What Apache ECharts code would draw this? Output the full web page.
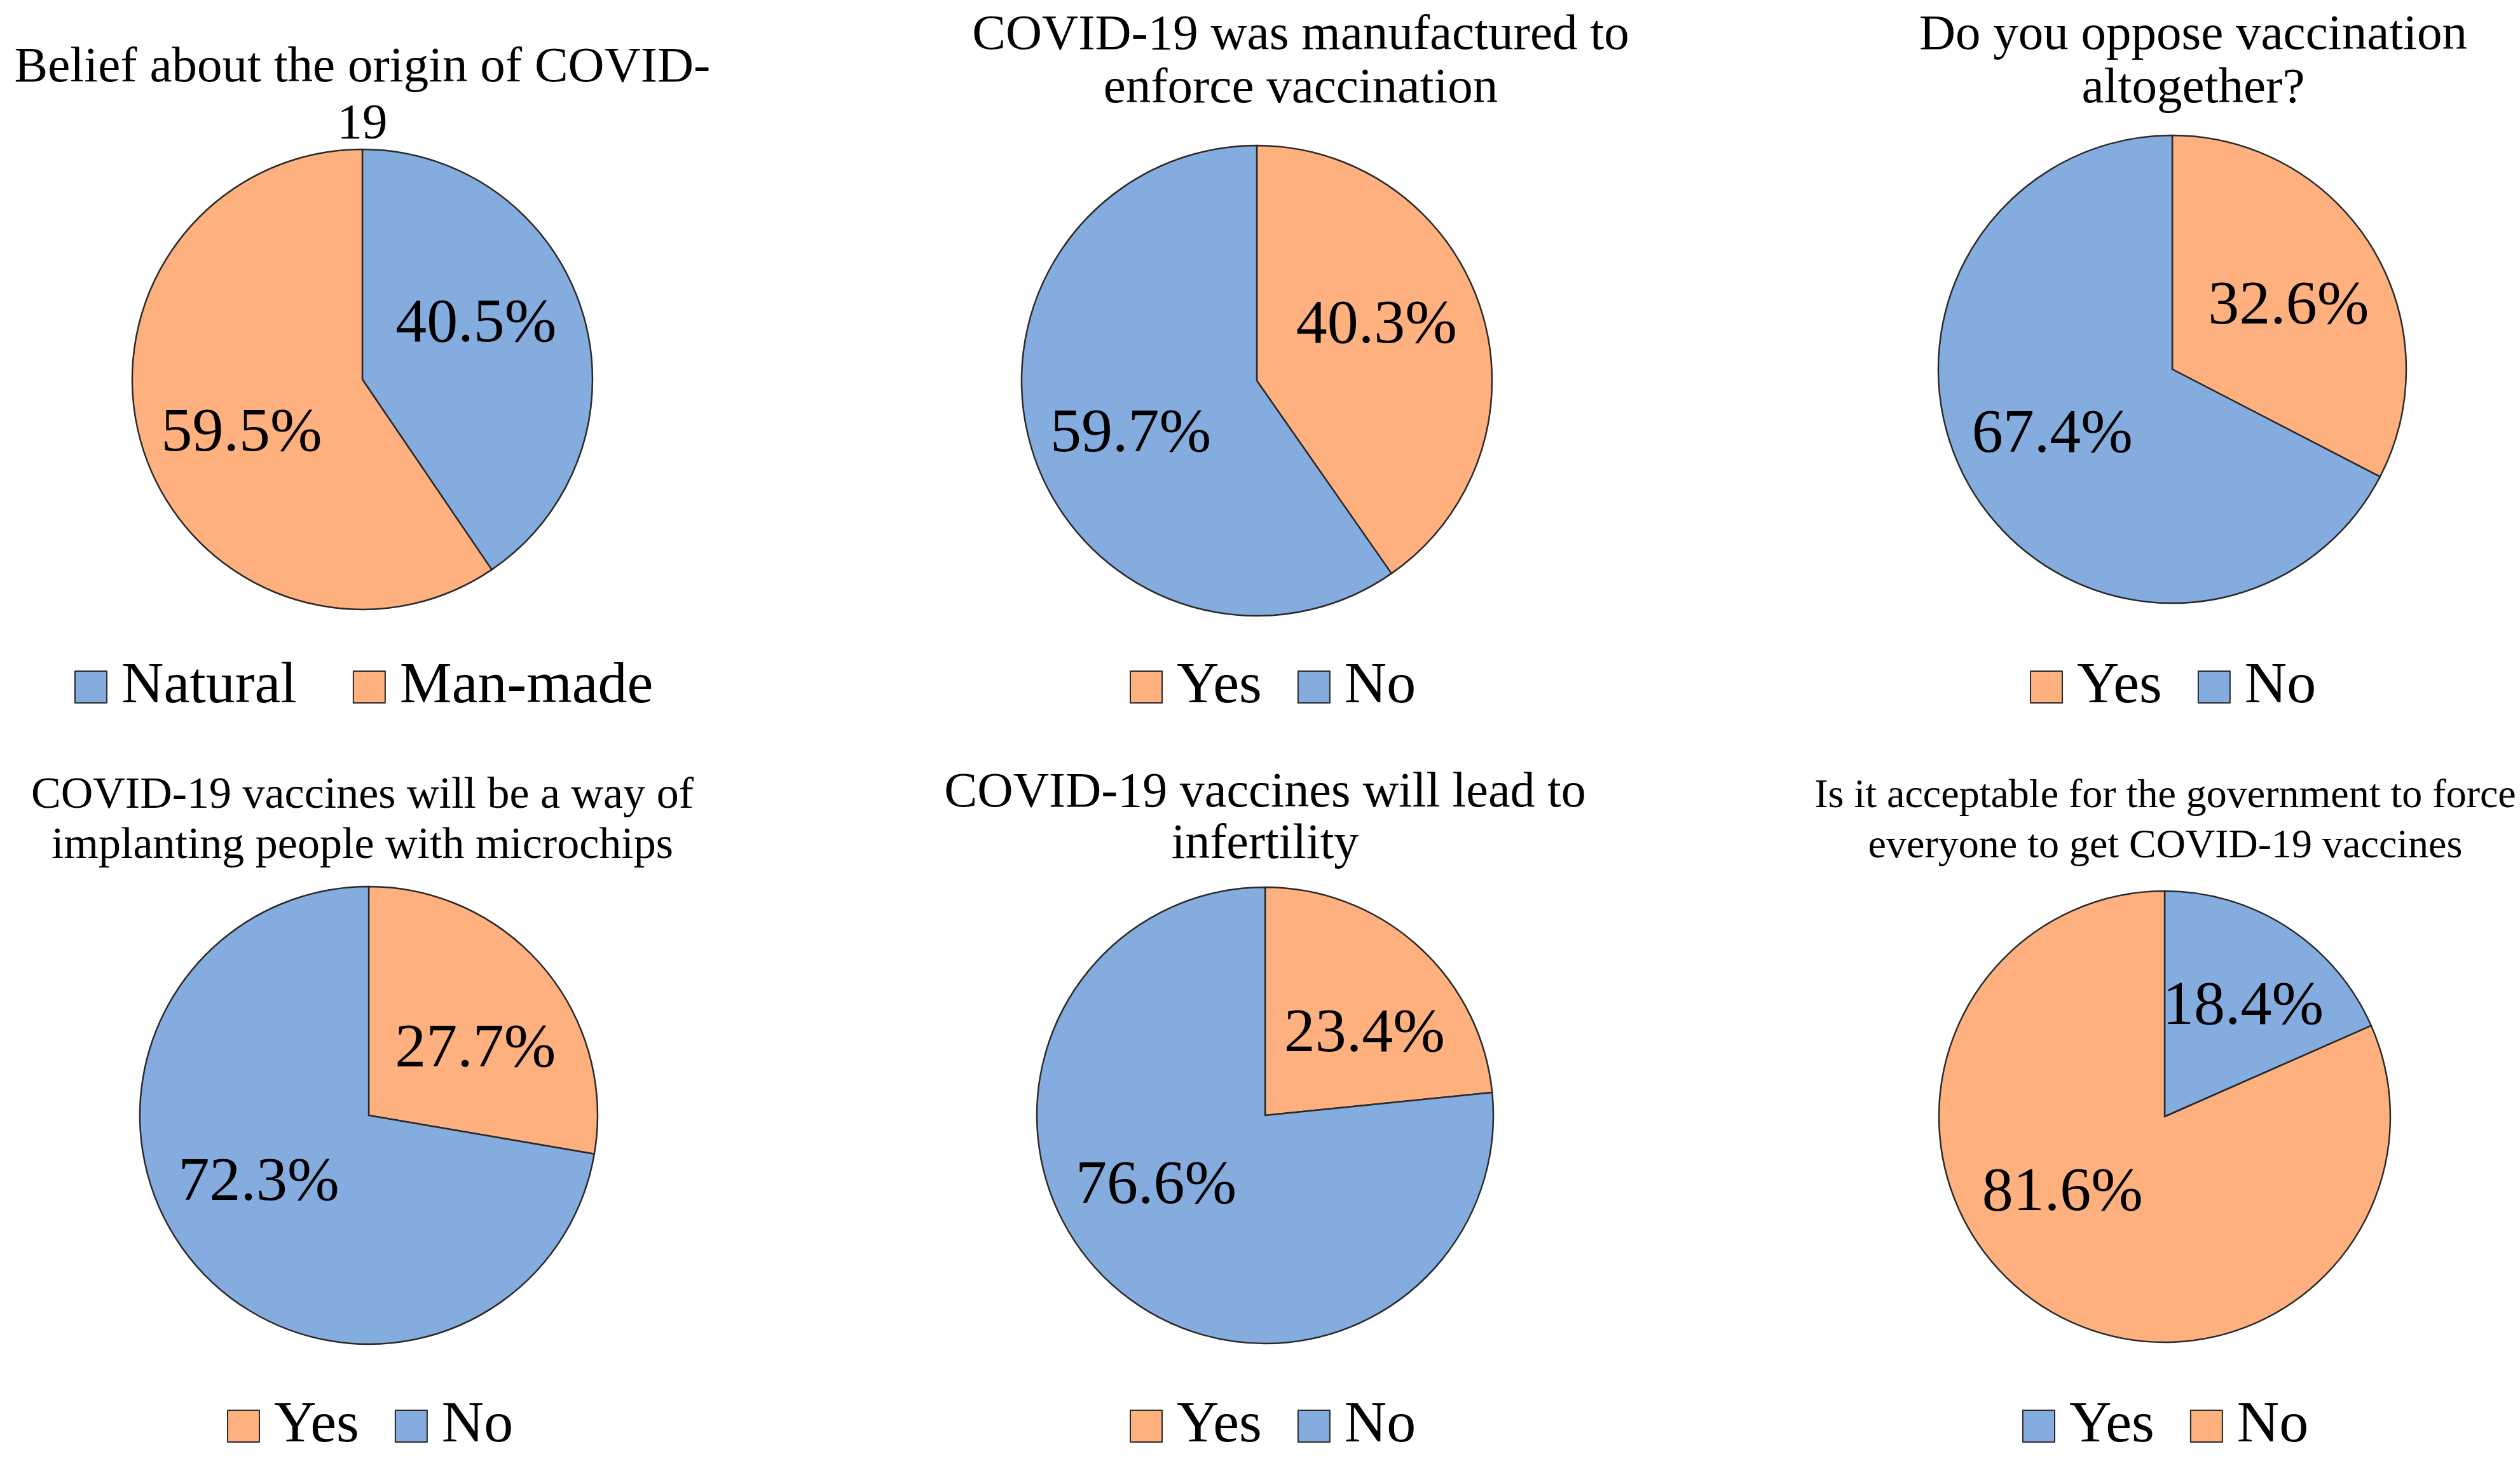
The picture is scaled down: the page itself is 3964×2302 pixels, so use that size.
<!DOCTYPE html>
<html>
<head>
<meta charset="utf-8">
<script src="https://cdn.jsdelivr.net/npm/echarts@6/dist/echarts.min.js"></script>
<style>
html,body{margin:0;padding:0;background:#fff;}
#chart{width:3964px;height:2302px;}
</style>
</head>
<body>
<div id="chart"></div>
<script>
// ---- data ----
const titles = [
  'Belief about the origin of COVID-\n19',
  'COVID-19 was manufactured to\nenforce vaccination',
  'Do you oppose vaccination\naltogether?',
  'COVID-19 vaccines will be a way of\nimplanting people with microchips',
  'COVID-19 vaccines will lead to\ninfertility',
  'Is it acceptable for the government to force\neveryone to get COVID-19 vaccines'
];
const categories1 = ['Natural', 'Man-made'];
const values1 = [40.5, 59.5];
const categories2 = ['Yes', 'No'];
const values2 = [40.3, 59.7];
const categories3 = ['Yes', 'No'];
const values3 = [32.6, 67.4];
const categories4 = ['Yes', 'No'];
const values4 = [27.7, 72.3];
const categories5 = ['Yes', 'No'];
const values5 = [23.4, 76.6];
const categories6 = ['Yes', 'No'];
const values6 = [18.4, 81.6];

// ---- styles / layout ----
const BLUE = '#84ACDF';
const ORANGE = '#FFB07F';
const colors = [
  [BLUE, ORANGE], [ORANGE, BLUE], [ORANGE, BLUE],
  [ORANGE, BLUE], [ORANGE, BLUE], [BLUE, ORANGE]
];
const FONT = 'Liberation Serif';
// lo: label nudges (px) relative to the default inside-label position
const panels = [
  {cx: 570, cy: 597, r: 362, tx: 570, ty: 63, tfs: 79, tlh: 89, lx: 572, ly: 1082, gap: 88, lo: [[3, -32], [-14, 32]]},
  {cx: 1977, cy: 599, r: 370, tx: 2046, ty: 14, tfs: 79, tlh: 84, lx: 2002, ly: 1082, gap: 56, lo: [[9, -29], [-19, 29]]},
  {cx: 3417, cy: 581, r: 368, tx: 3450, ty: 14, tfs: 79, tlh: 84, lx: 3418, ly: 1082, gap: 56, lo: [[23, -1], [-29, 7]]},
  {cx: 580, cy: 1755, r: 360, tx: 570, ty: 1213, tfs: 70, tlh: 79, lx: 582, ly: 2245, gap: 56, lo: [[28, 15], [-33, -11]]},
  {cx: 1990, cy: 1755, r: 359, tx: 1990, ty: 1208, tfs: 78, tlh: 81, lx: 2002, ly: 2245, gap: 56, lo: [[34, 9], [-49, -23]]},
  {cx: 3405, cy: 1757, r: 355, tx: 3406, ty: 1214, tfs: 64, tlh: 79, lx: 3406, ly: 2245, gap: 56, lo: [[25, -21], [-62, -30]]}
];
const allCats = [categories1, categories2, categories3, categories4, categories5, categories6];
const allVals = [values1, values2, values3, values4, values5, values6];

const title = [], legend = [], series = [];
panels.forEach((p, i) => {
  const names = allCats[i].map(c => c + '#' + (i + 1));
  title.push({
    text: titles[i], left: p.tx, top: p.ty, textAlign: 'center', padding: 0,
    textStyle: {fontFamily: FONT, fontWeight: 'normal', fontSize: p.tfs, lineHeight: p.tlh, color: '#000'}
  });
  legend.push({
    data: names, left: p.lx, top: p.ly - 52, orient: 'horizontal',
    itemWidth: 50, itemHeight: 50, itemGap: p.gap, selectedMode: false,
    icon: 'rect',
    formatter: n => n.split('#')[0],
    textStyle: {fontFamily: FONT, fontSize: 92, color: '#000', padding: [0, 0, 0, 18]}
  });
  series.push({
    type: 'pie', center: [p.cx, p.cy], radius: p.r, startAngle: 90, clockwise: true,
    animation: false, silent: true, percentPrecision: 1,
    itemStyle: {borderColor: '#2a2a2a', borderWidth: 2.5},
    label: {show: true, position: 'inside', formatter: '{d}%', fontFamily: FONT, fontSize: 98, color: '#000'},
    labelLine: {show: false},
    labelLayout: function (params) {
      const rc = params.labelRect;
      const off = p.lo[params.dataIndex] || [0, 0];
      return {x: rc.x + rc.width / 2 + off[0], y: rc.y + rc.height / 2 + off[1]};
    },
    data: names.map((n, k) => ({name: n, value: allVals[i][k], itemStyle: {color: colors[i][k]}}))
  });
});

const chart = echarts.init(document.getElementById('chart'), null, {renderer: 'canvas'});
chart.setOption({backgroundColor: '#fff', textStyle: {fontFamily: FONT}, title, legend, series});
// center legends on their x
chart.setOption({legend: panels.map((p, i) => {
  const lm = chart.getModel().getComponent('legend', i);
  const view = chart.getViewOfComponentModel(lm);
  const w = view.group.getBoundingRect().width;
  return {left: Math.round(p.lx - w / 2)};
})});
</script>
</body>
</html>
